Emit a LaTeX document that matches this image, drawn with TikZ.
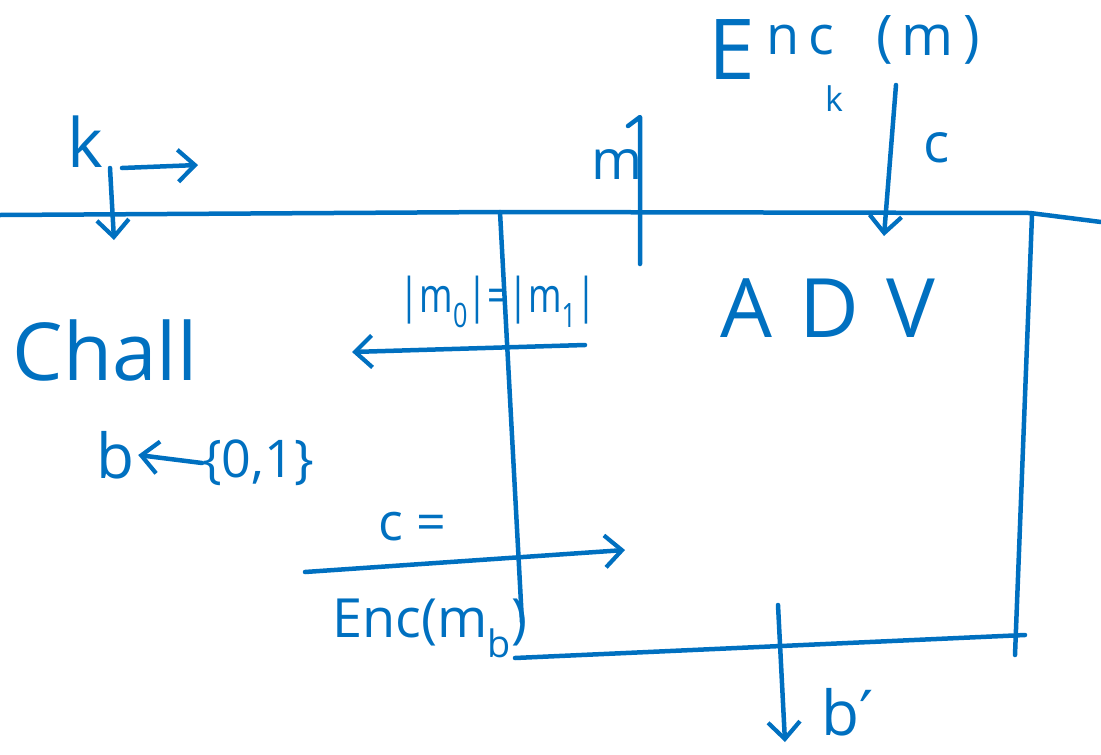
\documentclass[tikz,border=0pt]{standalone}
\usepackage{fontspec}
\setmainfont{Open Sans}
\newfontfamily\djv{DejaVu Sans}
\usetikzlibrary{arrows.meta}
\definecolor{ink}{RGB}{0,112,192}
\begin{document}
\begin{tikzpicture}[x=1pt,y=-1pt,
  wire/.style={draw=ink,line width=4.5pt,line cap=round,line join=round},
  arr/.style={wire,-{Straight Barb[length=17pt,width=32pt,line width=4.2pt]}},
  lbl/.style={text=ink,inner sep=0pt,font=\fontsize{#1}{#1}\selectfont},
  lbl/.default=55]
\useasboundingbox (0,0) rectangle (1101,755);
% main horizontal line
\coordinate (L0) at (0,215);
\coordinate (L1) at (500,212);
\coordinate (L2) at (1030,213);
\coordinate (L3) at (1101,222);
\draw[wire] (L0) -- (L1) -- (L2) -- (L3);
% challenger / adversary boundary
\coordinate (V1b) at (522,622);
\draw[wire] (L1) -- (V1b);
\coordinate (R0) at (1032,215);
\coordinate (R1) at (1015,655);
\draw[wire] (R0) -- (R1);
\coordinate (B0) at (515,658);
\coordinate (B1) at (1025,635);
\draw[wire] (B0) -- (B1);
% top oracle
\node[lbl=84] (encE) at (732,50) {E};
\node[lbl=54] (encnc) at (800,40) {n\,c};
\node[lbl=56] (encm) at (928,40) {(\,m\,)};
\node[lbl=34] (enck) at (834,99) {k};
% k
\node[lbl=68] (k) at (85,142) {k};
\coordinate (kd0) at (110,168);
\coordinate (kd1) at (114,240);
\coordinate (kr0) at (122,168);
\coordinate (kr1) at (198,165);
\draw[arr] (kd0) -- (kd1);
\draw[arr] (kr0) -- (kr1);
% m up to oracle
\node[lbl=55] (m) at (617,165) {m};
\coordinate (mu0) at (640,264);
\coordinate (mu1) at (640,117);
\draw[wire] (mu0) -- (mu1) -- (628,126);
% c down from oracle
\node[lbl=55] (c) at (937,148) {c};
\coordinate (cd0) at (896,85);
\coordinate (cd1) at (884,236);
\draw[arr] (cd0) -- (cd1);
% party names
\node[lbl=82] (adv) at (828,308) {A\,\,D\,\,V};
\node[lbl=80] (chall) at (105,350) {Chall};
% |m0|=|m1|
\node[lbl=48] (mm) at (498,302) {\scalebox{0.75}[1]{|m\textsubscript{0}|=|m\textsubscript{1}|}};
\coordinate (ma0) at (585,345);
\coordinate (ma1) at (352,352);
\draw[arr] (ma0) -- (ma1);
% b <- {0,1}
\node[lbl=62] (b) at (115,455) {b};
\node[lbl=52] (set) at (258,463) {\{0,1\}};
\draw[arr] (set.west) -- ([xshift=4pt]b.east);
% c = Enc(m_b)
\node[lbl=52] (ceq) at (412,527) {c =};
\coordinate (ca0) at (305,572);
\coordinate (ca1) at (625,550);
\draw[arr] (ca0) -- (ca1);
\node[lbl=54] (encmb) at (430,628) {Enc(m\textsubscript{b})};
% b'
\coordinate (bd0) at (778,605);
\coordinate (bd1) at (785,742);
\draw[arr] (bd0) -- (bd1);
\node[lbl=62] (bp) at (848,712) {b{\djv ′}};
\end{tikzpicture}
\end{document}
